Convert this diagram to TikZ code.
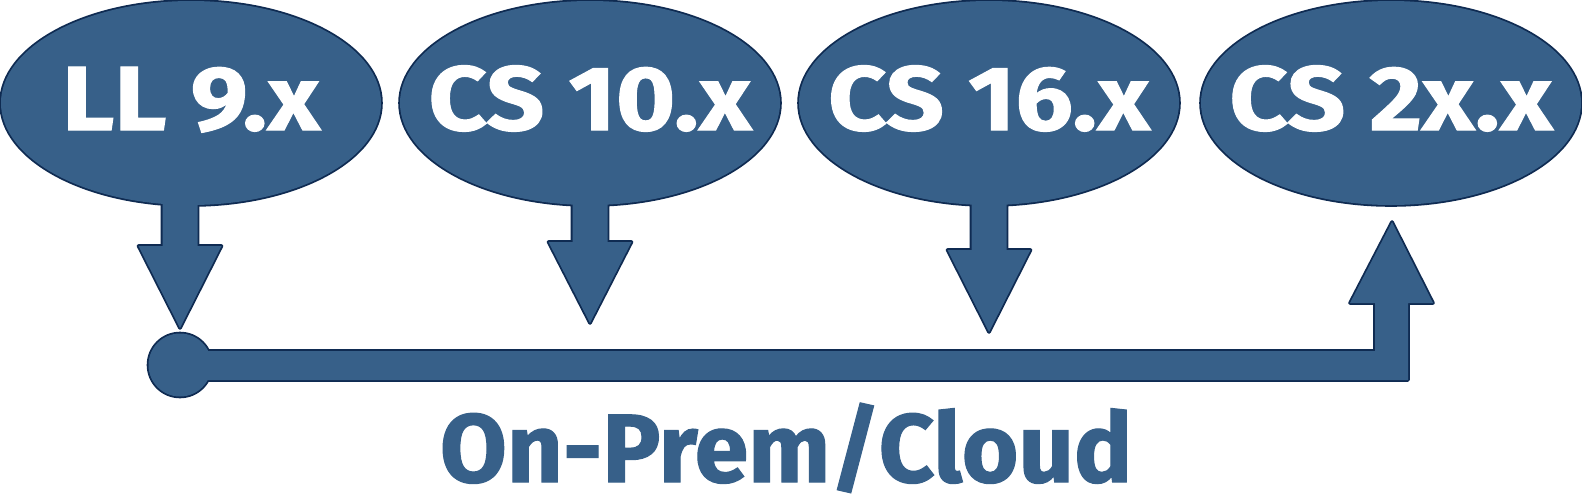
\documentclass[tikz,border=0pt]{standalone}
\usepackage{fontspec}
\setmainfont{Fira Sans}
\newfontfamily\heavyA{Fira Sans}[BoldFeatures={FakeBold=1.2,FakeStretch=1.12}]
\newfontfamily\heavyB{Fira Sans}[BoldFeatures={FakeBold=1.2}]
\usetikzlibrary{shapes.geometric}
\definecolor{cfill}{HTML}{376089}
\definecolor{cline}{HTML}{0F2B52}
\newcommand\dnarrow[3]{(#1-17.5,190) -- (#1-17.5,#2) -- (#1-41.5,#2) -- (#1,#3) -- (#1+41.5,#2) -- (#1+17.5,#2) -- (#1+17.5,190) -- cycle}
\newcommand\botpath{(180,351) -- (1375,351) -- (1375,303) -- (1350,303) -- (uptip) -- (1433,303) -- (1408,303) -- (1408,380) -- (180,380) -- cycle}
\newcommand\bubpath[1]{(#1) ellipse [x radius=190pt, y radius=102pt]}
\begin{document}
\begin{tikzpicture}[x=1pt,y=-1pt,
  shapeout/.style={draw=cline,line width=3.6pt,line join=round},
  shapein/.style={fill=cfill},
  bub/.style={ellipse,minimum width=380pt,minimum height=204pt,inner sep=0pt},
  ver/.style={text=white,font=\heavyA\bfseries\fontsize{91}{91}\selectfont,anchor=base,inner sep=0pt},
  lbl/.style={text=cfill,font=\heavyB\bfseries\fontsize{97}{97}\selectfont,anchor=base,inner sep=0pt}]
\useasboundingbox (0,0) rectangle (1582,498);
\node[bub] (e1) at (191,103) {};
\node[bub] (e2) at (590,103) {};
\node[bub] (e3) at (989,103) {};
\node[bub] (e4) at (1391,103) {};
\coordinate (start) at (180,365);
\coordinate (uptip) at (1392,222);
% outlines
\path[shapeout] \bubpath{e1} \bubpath{e2} \bubpath{e3} \bubpath{e4};
\path[shapeout] \dnarrow{180}{246}{328} \dnarrow{590}{242}{323} \dnarrow{989}{250}{332};
\path[shapeout] (start) circle[radius=31.5pt];
\path[shapeout] \botpath;
% fills
\path[shapein] \bubpath{e1} \bubpath{e2} \bubpath{e3} \bubpath{e4};
\path[shapein] \dnarrow{180}{246}{328} \dnarrow{590}{242}{323} \dnarrow{989}{250}{332};
\path[shapein] (start) circle[radius=31.5pt];
\path[shapein] \botpath;
% texts
\node[ver] (t1) at (191,130) {LL 9.x};
\node[ver] (t2) at (590,130) {CS 10.x};
\node[ver] (t3) at (989,130) {CS 16.x};
\node[ver] (t4) at (1391,130) {CS 2x.x};
\node[lbl] (lab) at (786,482) {On-Prem/Cloud};
\end{tikzpicture}
\end{document}
